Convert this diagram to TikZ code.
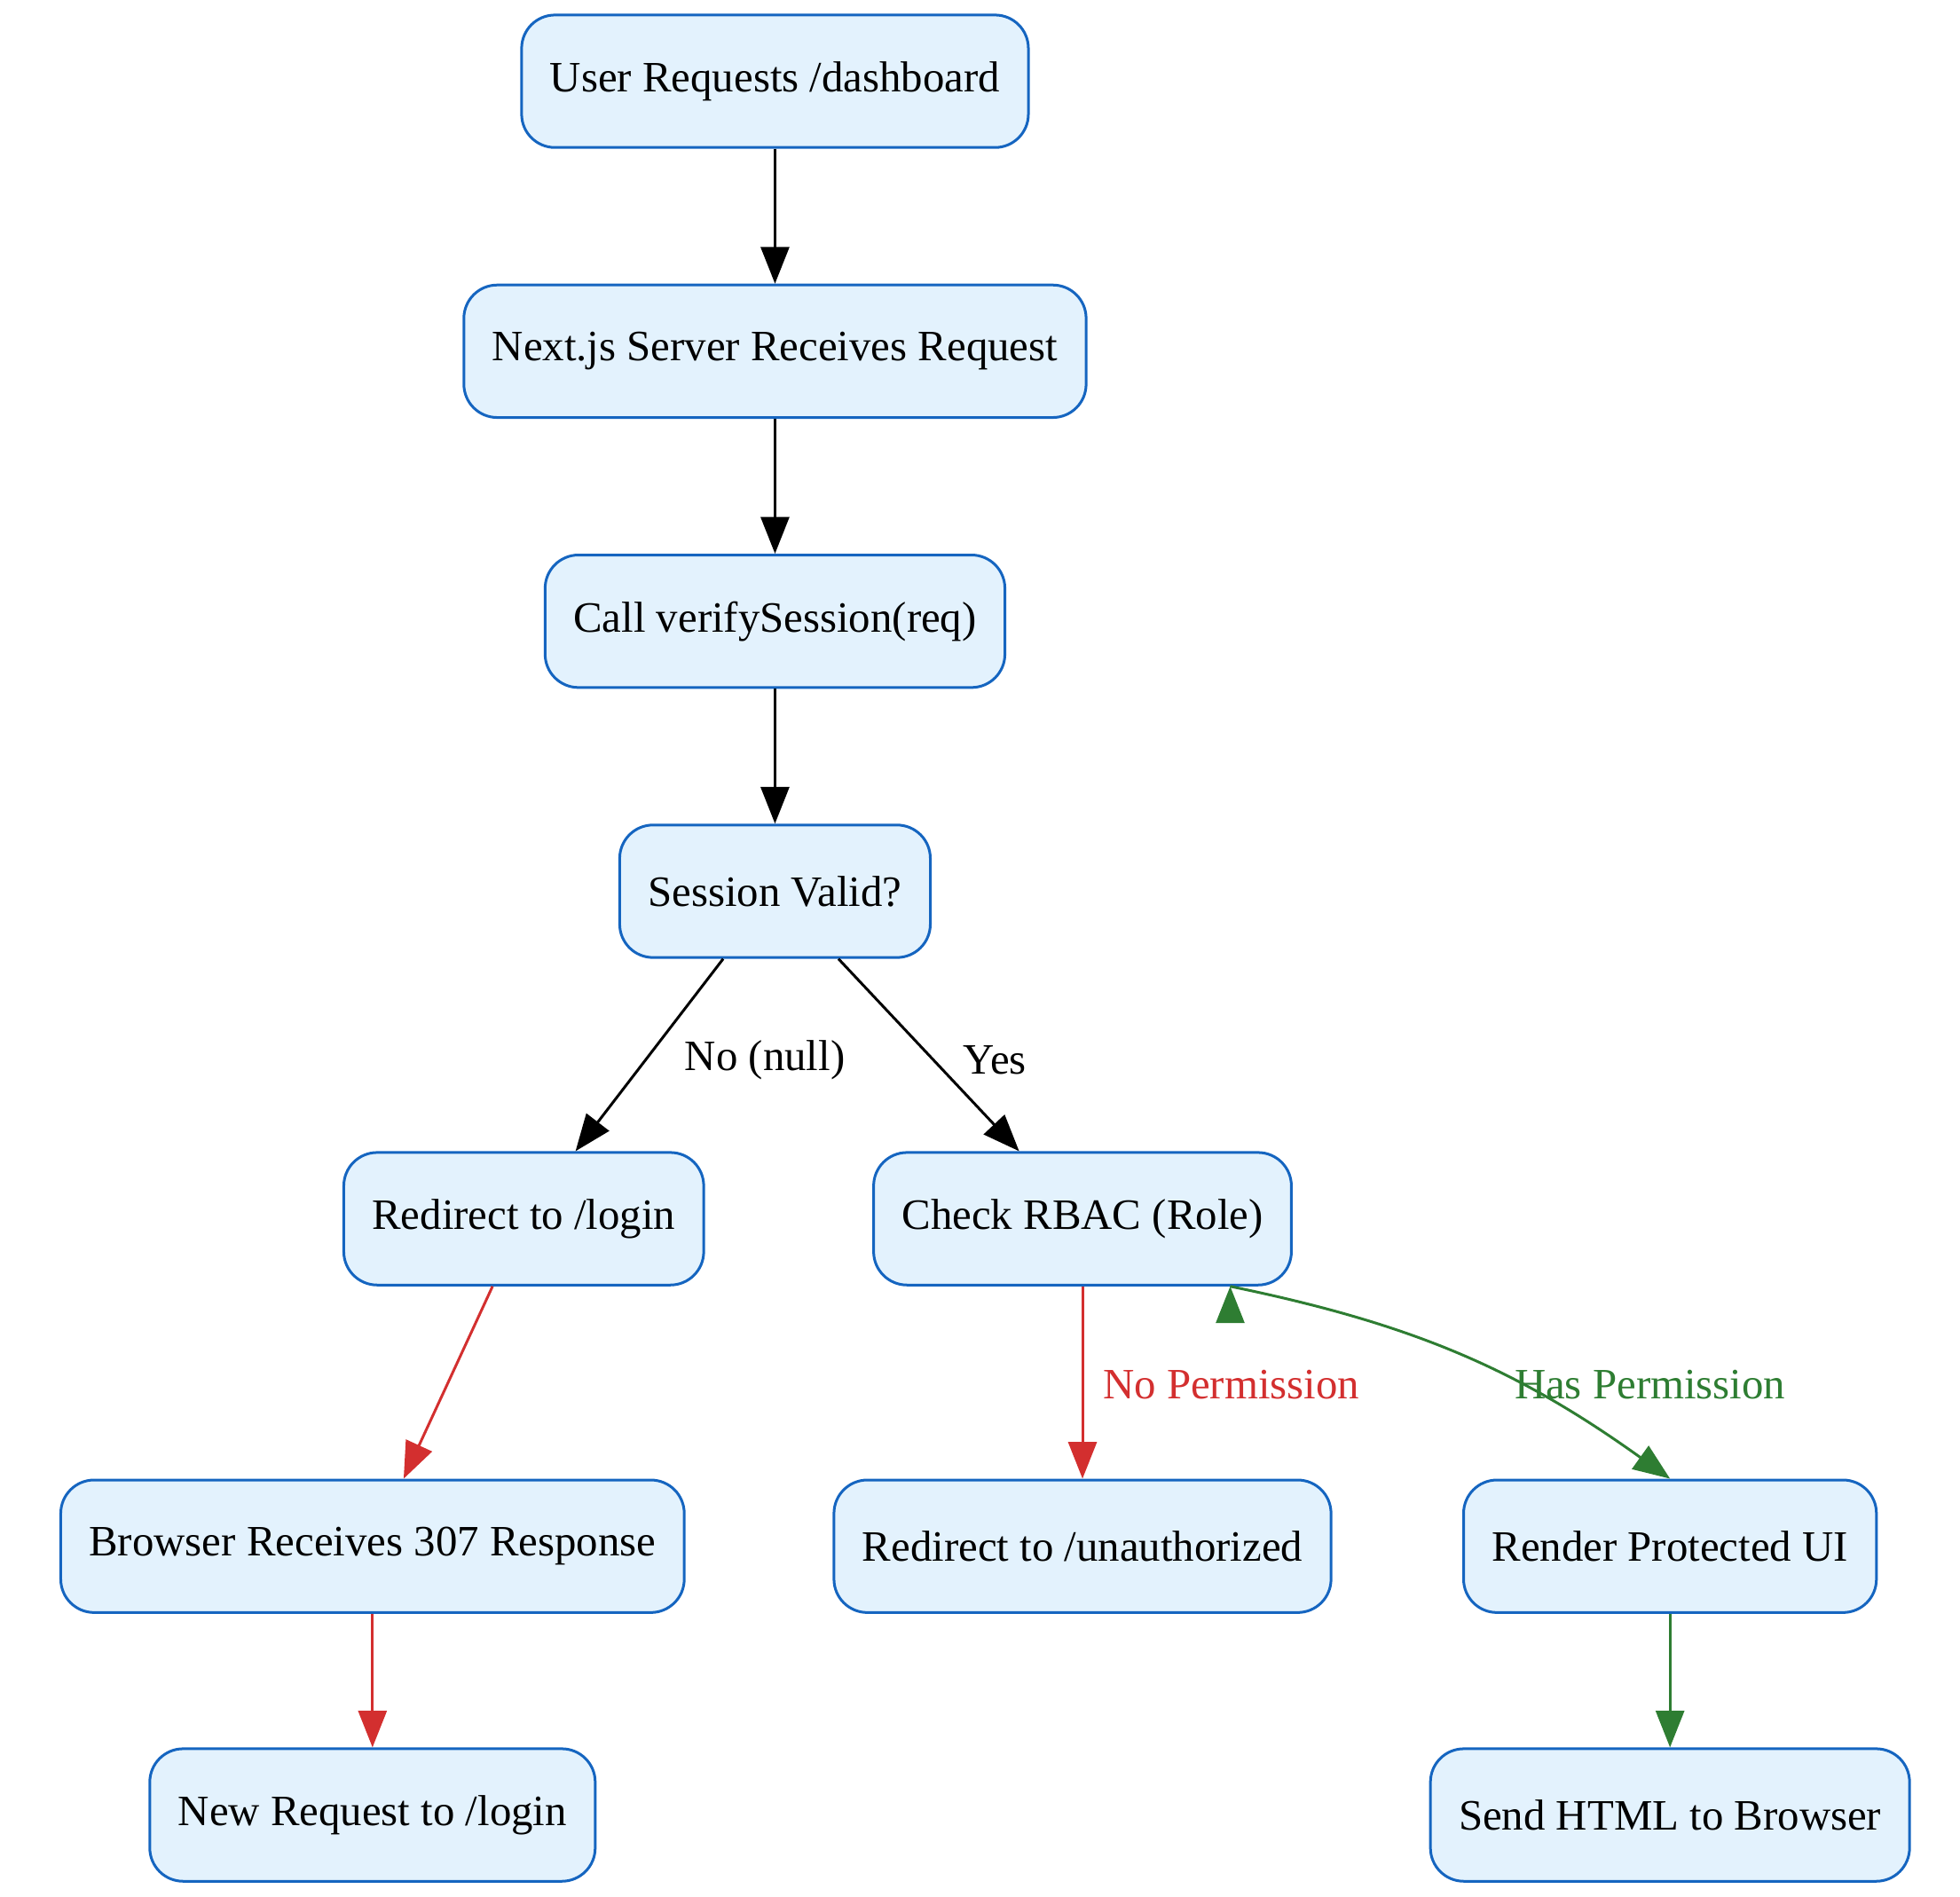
\documentclass[tikz,border=0pt]{standalone}
\usepackage{fontspec}
\setmainfont{Liberation Serif}
\usetikzlibrary{arrows.meta}
\definecolor{boxfill}{HTML}{E3F2FD}
\definecolor{boxline}{HTML}{1565C0}
\definecolor{nored}{HTML}{D32F2F}
\definecolor{okgreen}{HTML}{2E7D32}
\tikzset{
  action/.style={draw=boxline, fill=boxfill, line width=1.6pt, rounded corners=20pt,
    minimum height=79.5pt, inner xsep=17pt, font=\fontsize{26}{30}\selectfont},
  flow/.style={line width=1.6pt, -{Triangle[length=22pt,width=17pt]}},
  lab/.style={font=\fontsize{26}{30}\selectfont, fill=white, inner sep=1pt}
}
\begin{document}
\begin{tikzpicture}[x=0.75pt, y=-0.75pt]
		\useasboundingbox (0,0) rectangle (1568,1517);

		\node[action] (n1)  at ( 620,  65) {User Requests /dashboard};
		\node[action] (n2)  at ( 620, 281) {Next.js Server Receives Request};
		\node[action] (n3)  at ( 620, 497) {Call verifySession(req)};
		\node[action] (n4)  at ( 620, 713) {Session Valid?};
		\node[action] (n5)  at ( 419, 975) {Redirect to /login};
		\node[action] (n6)  at ( 866, 975) {Check RBAC (Role)};
		\node[action] (n7)  at ( 298,1237) {Browser Receives 307 Response};
		\node[action] (n8)  at ( 866,1237) {Redirect to /unauthorized};
		\node[action] (n9)  at (1336,1237) {Render Protected UI};
		\node[action] (n10) at ( 298,1452) {New Request to /login};
		\node[action] (n11) at (1336,1452) {Send HTML to Browser};

		\draw[flow] (n1) to (n2);
		\draw[flow] (n2) to (n3);
		\draw[flow] (n3) to (n4);

		\draw[flow] (n4) to (n5);
		\draw[flow] (n4) to (n6);
		\node[lab] (l1) at (612, 848) {No (null)};
		\node[lab] (l2) at (796, 848) {Yes};

		\draw[flow, nored] (n5) to (n7);
		\draw[flow, nored] (n7) to (n10);

		\draw[flow, nored] (n6) to (n8);
		\node[lab, text=nored, fill=none] (l3) at (985,1108) {No Permission};
		\draw[flow, okgreen] (n6.south east) ++(-50,0) coordinate (g0);
		\draw[flow, okgreen] (g0) to[bend left=12] (n9.north west -| n9.north) ;
		\node[lab, text=okgreen, fill=none] (l4) at (1320,1108) {Has Permission};
		\draw[flow, okgreen] (n9) to (n11);

	\end{tikzpicture}
\end{document}
